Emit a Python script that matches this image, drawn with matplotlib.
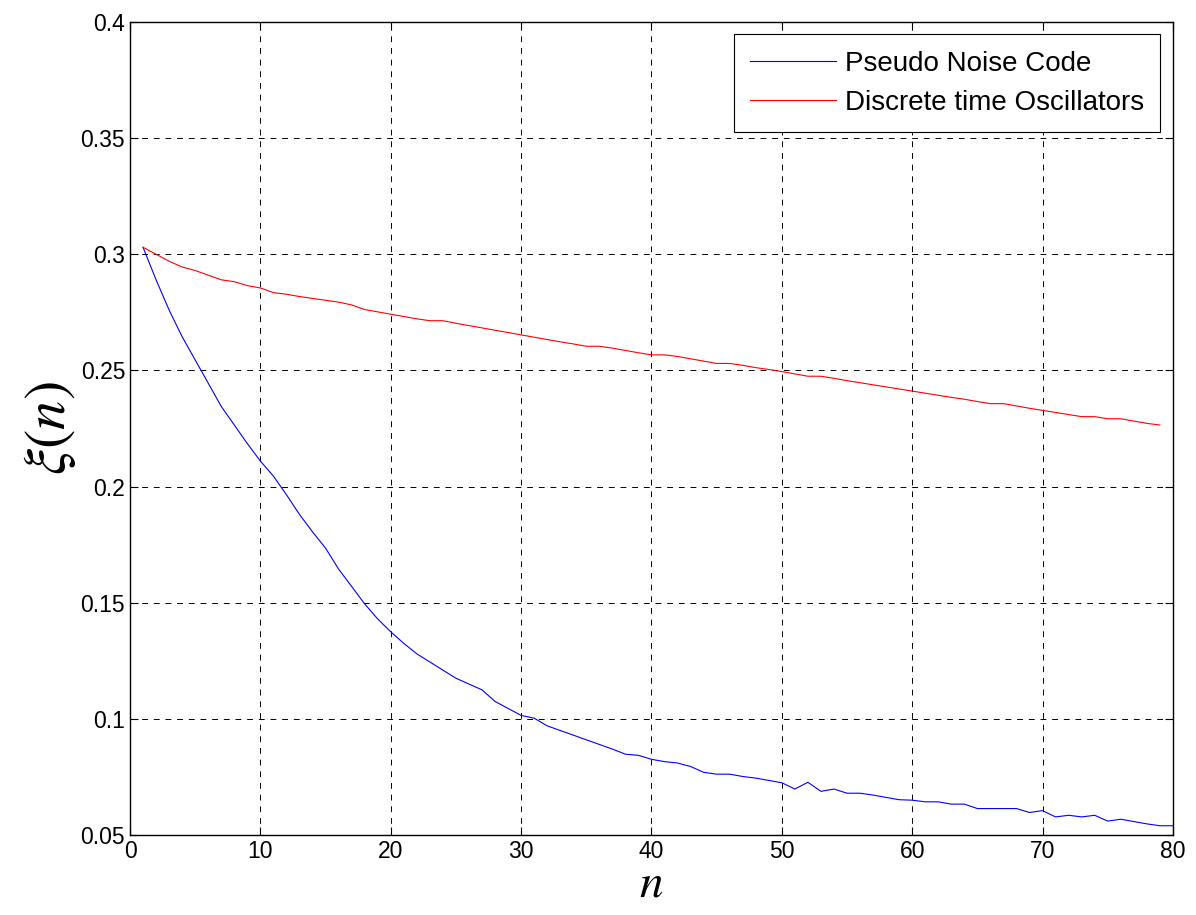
import numpy as np
import matplotlib.pyplot as plt

# 数据
n_pn = np.arange(1, 81)
pn_code = [0.303, 0.289, 0.276, 0.2645, 0.2545, 0.2445, 0.2345, 0.2265, 0.2185, 0.211,
           0.2045, 0.1965, 0.188, 0.1805, 0.1735, 0.1645, 0.157, 0.1495, 0.143, 0.1375,
           0.1325, 0.128, 0.1245, 0.121, 0.1175, 0.115, 0.1125, 0.1075, 0.1045, 0.1015,
           0.1003, 0.097, 0.095, 0.093, 0.091, 0.089, 0.087, 0.0848, 0.0843, 0.0826,
           0.0816, 0.081, 0.0795, 0.077, 0.0762, 0.0762, 0.0752, 0.0745, 0.0735, 0.0725,
           0.0698, 0.0727, 0.0688, 0.0698, 0.068, 0.068, 0.0672, 0.0662, 0.0652, 0.065,
           0.0643, 0.0643, 0.0633, 0.0633, 0.0614, 0.0614, 0.0614, 0.0614, 0.0597, 0.0605,
           0.0578, 0.0585, 0.0578, 0.0585, 0.056, 0.0568, 0.0558, 0.0548, 0.054, 0.054]

n_dto = np.arange(1, 80)
dto = [0.303, 0.300, 0.297, 0.2945, 0.293, 0.291, 0.289, 0.2882, 0.2865, 0.2855,
       0.2835, 0.2828, 0.2818, 0.281, 0.2802, 0.2794, 0.2782, 0.2762, 0.2752, 0.2742,
       0.2732, 0.2722, 0.2714, 0.2714, 0.2703, 0.2693, 0.2683, 0.2673, 0.2663, 0.2653,
       0.2643, 0.2633, 0.2623, 0.2614, 0.2604, 0.2604, 0.2596, 0.2586, 0.2576, 0.2567,
       0.2567, 0.2560, 0.2550, 0.2540, 0.2530, 0.2530, 0.2522, 0.2512, 0.2504, 0.2495,
       0.2485, 0.2475, 0.2475, 0.2466, 0.2456, 0.2447, 0.2438, 0.2429, 0.242, 0.2411,
       0.2402, 0.2393, 0.2384, 0.2376, 0.2366, 0.2357, 0.2357, 0.2347, 0.2337, 0.2328,
       0.2319, 0.231, 0.2301, 0.2301, 0.2292, 0.2292, 0.2282, 0.2272, 0.2265]

xticks = np.arange(0, 81, 10)
yticks = [0.05, 0.1, 0.15, 0.2, 0.25, 0.3, 0.35, 0.4]
ytick_labels = ['0.05', '0.1', '0.15', '0.2', '0.25', '0.3', '0.35', '0.4']

plt.rcParams['font.family'] = ['Liberation Sans', 'DejaVu Sans']
plt.rcParams['mathtext.fontset'] = 'stix'

fig = plt.figure(figsize=(11.96, 9.15), dpi=100)
ax = fig.add_axes([0.1087, 0.0874, 0.872, 0.8886])

ax.plot(n_pn, pn_code, color='blue', linewidth=0.8, label='Pseudo Noise Code')
ax.plot(n_dto, dto, color='red', linewidth=0.8, label='Discrete time Oscillators')

ax.set_xlim(0, 80)
ax.set_ylim(0.05, 0.4)
ax.set_xticks(xticks)
ax.set_yticks(yticks)
ax.set_yticklabels(ytick_labels)
ax.tick_params(direction='in', top=True, right=True, labelsize=16.5, length=6, width=0.8)

# 网格 (虚线)
ax.grid(True, color='black', linestyle=(0, (6, 6)), linewidth=0.7)

for sp in ax.spines.values():
    sp.set_linewidth(1.0)

ax.set_xlabel('$n$', fontsize=34, labelpad=0)
ax.set_ylabel(r'$\xi(n)$', fontsize=42, labelpad=2)

leg = ax.legend(loc='upper right', fontsize=20, fancybox=False, framealpha=1,
                edgecolor='black', handlelength=3.1, handletextpad=0.3,
                borderaxespad=0.45, labelspacing=0.45, borderpad=0.6)
leg.get_frame().set_linewidth(0.8)

plt.savefig('out.png', dpi=100)
